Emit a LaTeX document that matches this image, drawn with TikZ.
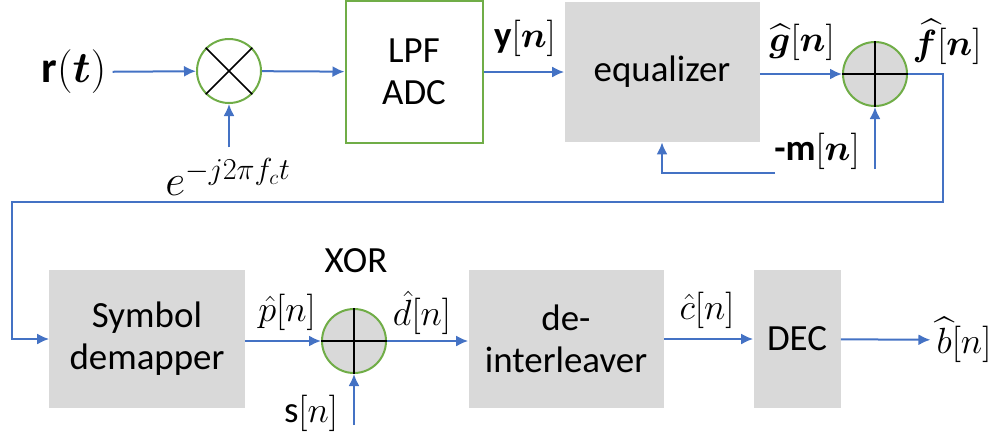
\documentclass[tikz,border=0pt]{standalone}
\usepackage{amsmath,bm}
\usepackage{fontspec}
\setmainfont{Carlito}
\usetikzlibrary{arrows.meta,positioning}
\definecolor{lineblue}{HTML}{4472C4}
\definecolor{ringgreen}{HTML}{70AD47}
\definecolor{boxgray}{HTML}{D9D9D9}
\begin{document}
\begin{tikzpicture}[x=0.2mm,y=-0.2mm,
  font=\fontsize{21}{24}\selectfont,
  arr/.style={draw=lineblue,line width=0.4mm,-{Latex[length=2.4mm,width=2.2mm]}},
  graybox/.style={fill=boxgray,minimum height=27.6mm,align=center},
  ring/.style={circle,draw=ringgreen,line width=0.4mm,minimum size=12.8mm,inner sep=0pt},
  sign/.style={line width=0.3mm}]
\useasboundingbox (0,0) rectangle (1002,433);
% upper row
\node (rt) at (74,72) {\fontsize{25}{28}\selectfont$\textbf{r}(\boldsymbol{t})$};
\node [ring] (mix) at (229,71) {};
\draw [sign] (mix.north west) -- (mix.south east) (mix.north east) -- (mix.south west);
\node (expo) at (228,177) {\fontsize{23}{26}\selectfont$e^{-j2\pi f_c t}$};
\node [draw=ringgreen,line width=0.4mm,minimum width=27.4mm,minimum height=28.4mm,align=center] (lpf) at (414,72) {LPF\\ADC};
\node (yn) at (525,38) {$\textbf{y}[\boldsymbol{n}]$};
\node [graybox,minimum width=39mm,minimum height=28mm] (eq) at (662,72) {equalizer};
\node (gn) at (802,42) {$\widehat{\boldsymbol{g}}[\boldsymbol{n}]$};
\node [ring,fill=boxgray] (add) at (875,74) {};
\draw [sign] (add.north) -- (add.south) (add.west) -- (add.east);
\node (fn) at (947,42) {$\widehat{\boldsymbol{f}}[\boldsymbol{n}]$};
\node (mn) at (817,151) {\textbf{-m}$[\boldsymbol{n}]$};
\coordinate (min) at (875,169);
\coordinate (fbs) at (775,173);
\coordinate (fa) at (943,202);
\coordinate (fb) at (12,202);
\draw [arr] (rt) -- (mix);
\draw [arr,shorten <=1mm] (mix.south |- expo.north) -- (mix.south);
\draw [arr] (mix) -- (lpf);
\draw [arr] (lpf) -- (eq);
\draw [arr] (eq.east |- add.west) -- (add.west);
\draw [arr] (min) -- (add.south);
\draw [arr] (fbs) -| (eq.south);
% lower row
\node [graybox,minimum width=39mm] (dem) at (147,339) {Symbol\\demapper};
\node (pn) at (287,312) {$\hat{p}[n]$};
\node [ring,fill=boxgray] (xr) at (354,341) {};
\draw [sign] (xr.north) -- (xr.south) (xr.west) -- (xr.east);
\node (xorlbl) at (356,261) {XOR};
\node (sn) at (311,413) {s$[n]$};
\node (dn) at (422,313) {$\hat{d}[n]$};
\node [graybox,minimum width=39mm] (dil) at (566,339) {de-\\interleaver};
\node (cn) at (707,310) {$\hat{c}[n]$};
\node [graybox,minimum width=17.4mm] (dec) at (797,339) {DEC};
\node (bn) at (964,340) {$\widehat{b}[n]$};
\coordinate (sin) at (354,425);
\draw [arr] (add.east) -| (fa) -- (fb) |- (dem.west);
\draw [arr] (dem.east |- xr.west) -- (xr.west);
\draw [arr] (sin) -- (xr.south);
\draw [arr] (xr.east) -- (xr.east -| dil.west);
\draw [arr] (dil) -- (dec);
\draw [arr] (dec) -- (bn);
\end{tikzpicture}
\end{document}
